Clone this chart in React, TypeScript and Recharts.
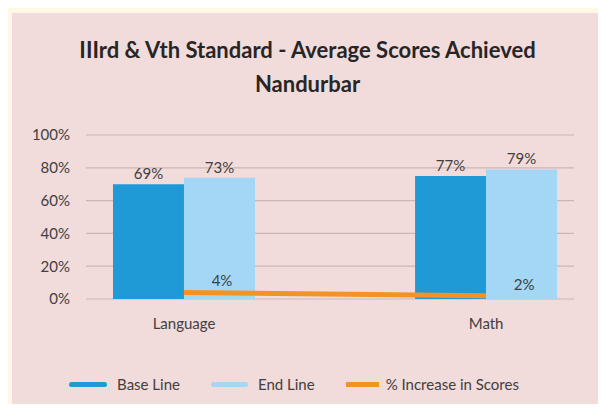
// Base line vs end line scores, with % increase line
import React from "react";
import { ComposedChart, Bar, Line, XAxis, YAxis, CartesianGrid, Legend, LabelList } from "recharts";

const categories = ["Language", "Math"];
const baseLine = [70, 75];
const endLine = [74, 79];
const increase = [4, 2];
const baseLabels = ["69%", "77%"];
const endLabels = ["73%", "79%"];
const increaseLabels = ["4%", "2%"];
const yTicks = [0, 20, 40, 60, 80, 100];

const BASE = "#1F9AD6";
const END = "#A3D7F5";
const ORANGE = "#F39325";
const TEXT = "#404040";
const FONT = "Lato, 'Open Sans', sans-serif";
const FS = 15;

const data = categories.map((name, i) => ({
  x: i + 1,
  name,
  base: baseLine[i],
  end: endLine[i],
  inc: increase[i],
  baseLabel: baseLabels[i],
  endLabel: endLabels[i],
  incLabel: increaseLabels[i],
}));

const legendItems = [
  { label: "Base Line", color: BASE, round: true, w: 38, gap: 10 },
  { label: "End Line", color: END, round: true, w: 37, gap: 10 },
  { label: "% Increase in Scores", color: ORANGE, round: false, w: 33, gap: 7 },
];

const CustomLegend = () => (
  <div style={{ display: "flex", justifyContent: "center", alignItems: "center", fontFamily: FONT, fontSize: FS, color: TEXT, height: 20, paddingRight: 16 }}>
    {legendItems.map((item, i) => (
      <div key={item.label} style={{ display: "flex", alignItems: "center", marginLeft: i === 0 ? 0 : 31 }}>
        <div style={{ width: item.w, height: 5, background: item.color, borderRadius: item.round ? 3 : 0, marginRight: item.gap }} />
        <span>{item.label}</span>
      </div>
    ))}
  </div>
);

const IncLabel = (props: any) => {
  const { x, y, value } = props;
  return (
    <text x={x + 38} y={y - 6} textAnchor="middle" fill={TEXT} fontSize={FS} fontFamily={FONT}>
      {value}
    </text>
  );
};

export default function App() {
  return (
    <div style={{ margin: -8, width: 606, height: 412, background: "#FEF8E4", position: "relative", overflow: "hidden" }}>
      <div style={{ position: "absolute", left: 12, top: 13, right: 0, bottom: 0, background: "#F2DBDB" }} />
      <div
        style={{
          position: "absolute",
          left: 0,
          top: 33,
          width: 615,
          textAlign: "center",
          fontFamily: FONT,
          fontWeight: 700,
          fontSize: 22,
          lineHeight: "34px",
          color: "#262626",
        }}
      >
        IIIrd &amp; Vth Standard - Average Scores Achieved
        <br />
        Nandurbar
      </div>
      <div style={{ position: "absolute", left: 0, top: 0 }}>
        <ComposedChart width={606} height={412} data={data} margin={{ top: 135, right: 32, left: 30, bottom: 18 }} barGap={0}>
          <CartesianGrid vertical={false} stroke="#CBB6B6" strokeWidth={1.2} />
          <XAxis
            dataKey="x"
            type="number"
            scale="linear"
            domain={[0.6755, 2.291]}
            ticks={[1, 2]}
            tickFormatter={(v: number) => categories[v - 1]}
            axisLine={false}
            tickLine={false}
            height={75}
            tickMargin={13}
            allowDataOverflow
            tick={{ fill: TEXT, fontSize: FS, fontFamily: FONT }}
          />
          <YAxis
            domain={[0, 100]}
            ticks={yTicks}
            tickFormatter={(v: number) => `${v}%`}
            axisLine={false}
            tickLine={false}
            width={56}
            tickMargin={10}
            tick={{ fill: TEXT, fontSize: FS, fontFamily: FONT }}
          />
          <Legend verticalAlign="bottom" height={20} content={<CustomLegend />} />
          <Bar dataKey="base" name="Base Line" fill={BASE} barSize={71} isAnimationActive={false}>
            <LabelList dataKey="baseLabel" position="top" offset={5} fill={TEXT} fontSize={FS} fontFamily={FONT} />
          </Bar>
          <Bar dataKey="end" name="End Line" fill={END} barSize={71} isAnimationActive={false}>
            <LabelList dataKey="endLabel" position="top" offset={5} fill={TEXT} fontSize={FS} fontFamily={FONT} />
          </Bar>
          <Line dataKey="inc" name="% Increase in Scores" stroke={ORANGE} strokeWidth={5} dot={false} type="linear" isAnimationActive={false}>
            <LabelList dataKey="incLabel" content={<IncLabel />} />
          </Line>
        </ComposedChart>
      </div>
    </div>
  );
}
